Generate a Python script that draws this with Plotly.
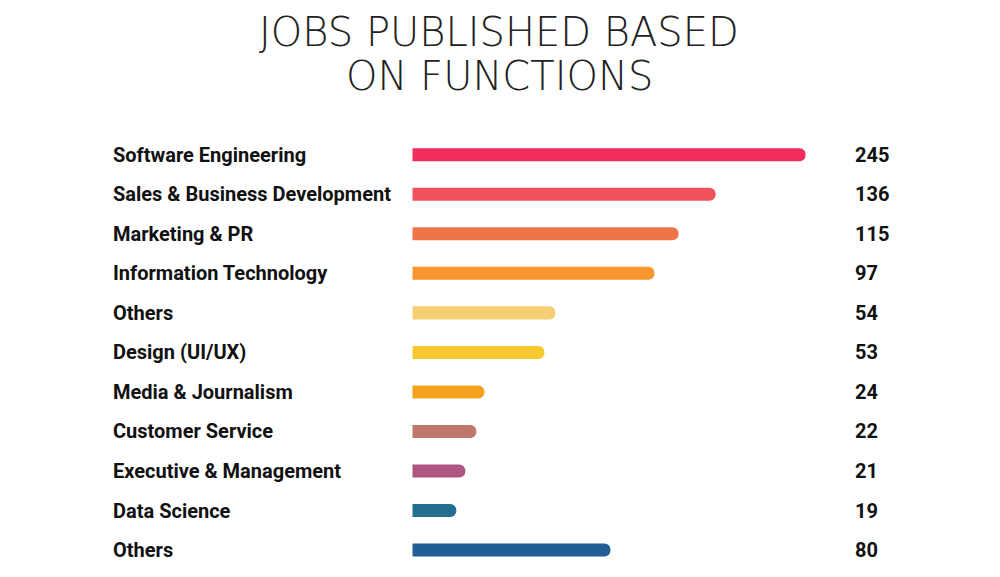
import plotly.graph_objects as go

functions = ['Software Engineering', 'Sales & Business Development', 'Marketing & PR',
             'Information Technology', 'Others', 'Design (UI/UX)', 'Media & Journalism',
             'Customer Service', 'Executive & Management', 'Data Science', 'Others']
jobs = [245, 136, 115, 97, 54, 53, 24, 22, 21, 19, 80]
# the infographic bars are not drawn to scale with the counts, so keep
# the drawn length (relative units) separately
bar_length = [393, 303, 266, 242, 143, 132, 72, 64, 53, 44, 198]
colors = ['#F02D5E', '#F0525A', '#F0744A', '#F7962F', '#F5CE74', '#F6C92E',
          '#F6A11C', '#BF766B', '#AE5582', '#216E8F', '#215E96']

W, H = 1000, 577
OFF = 8  # the page body adds an 8px margin


def px_x(p):
    return (p - OFF) / W


def px_y(p):
    return 1 - (p - OFF) / H


rows = list(range(len(functions)))
label_font = dict(family='Roboto, sans-serif', size=20, color='#111111', weight='bold')
title_font = dict(family='DejaVu Sans, sans-serif', size=40,
                  color='#222222', weight=200)

fig = go.Figure(go.Bar(
    x=bar_length,
    y=rows,
    orientation='h',
    width=0.33,
    marker=dict(color=colors, cornerradius='50%', line=dict(width=0)),
    hovertext=[f'{f}: {j}' for f, j in zip(functions, jobs)],
    hoverinfo='text',
))

# category names on the left, counts on the right
for i, (name, n) in enumerate(zip(functions, jobs)):
    fig.add_annotation(x=px_x(111), xref='paper', y=i, yref='y', text=name,
                       showarrow=False, xanchor='left', yanchor='middle',
                       font=label_font)
    fig.add_annotation(x=px_x(853), xref='paper', y=i, yref='y', text=str(n),
                       showarrow=False, xanchor='left', yanchor='middle',
                       font=label_font)

for text, yc in [('JOBS PUBLISHED BASED', 32), ('ON FUNCTIONS', 76)]:
    fig.add_annotation(x=px_x(499), xref='paper', y=px_y(yc), yref='paper',
                       yanchor='middle', text=text, showarrow=False,
                       borderpad=0, font=title_font)

fig.update_layout(
    width=W, height=H,
    margin=dict(l=0, r=0, t=0, b=0),
    paper_bgcolor='white', plot_bgcolor='white',
    showlegend=False,
    xaxis=dict(domain=[px_x(412.3), px_x(805.7)], range=[0, max(bar_length)],
               visible=False, fixedrange=True),
    yaxis=dict(domain=[px_y(569.8), px_y(135)], range=[len(functions) - 0.5, -0.5],
               visible=False, fixedrange=True),
)

fig.write_html('out.html')
